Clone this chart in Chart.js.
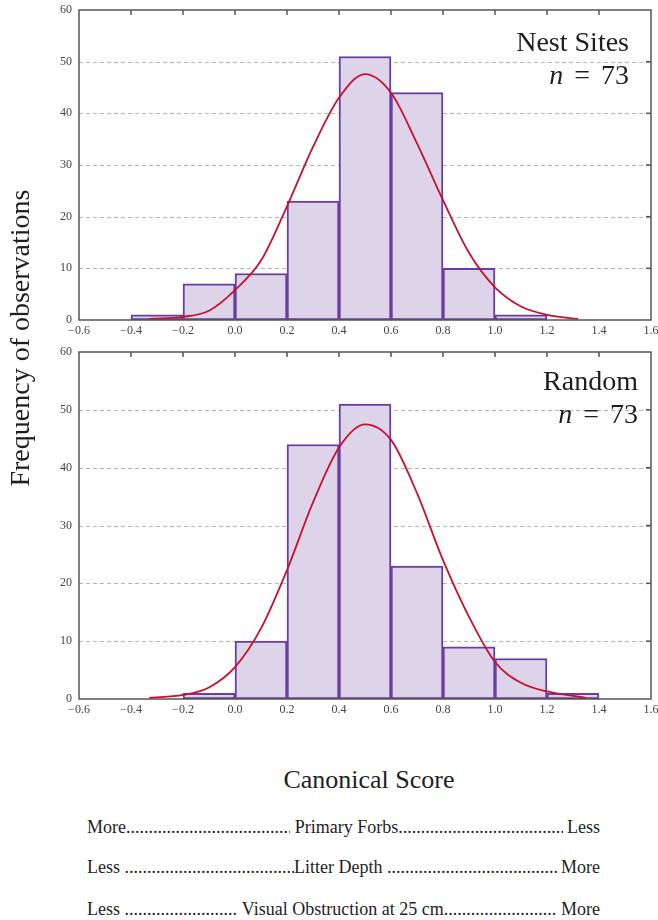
<!DOCTYPE html>
<html><head><meta charset="utf-8">
<script src="https://cdn.jsdelivr.net/npm/chart.js@4.4.1/dist/chart.umd.min.js"></script>
<style>
html,body{margin:0;padding:0;background:#fff}
body{width:658px;height:920px;position:relative;overflow:hidden;font-family:'Liberation Serif','Times New Roman',serif;color:#1e1e1e}
canvas{position:absolute;left:0}
#c1{top:0}
#c2{top:340px}
.tx{position:absolute;line-height:1;white-space:nowrap}
.ttl{font-size:28px;text-align:right}
.ttl i{font-style:italic}
#ytitle{position:absolute;font-size:28px;line-height:28px;width:400px;text-align:center;left:-180px;top:324px;transform:rotate(-90deg);transform-origin:50% 50%;white-space:nowrap}
#xtitle{position:absolute;font-size:26px;line-height:1;left:40px;width:658px;text-align:center;top:767px}
.row{position:absolute;left:87px;width:513px;font-size:18px;line-height:1;display:flex;white-space:nowrap}
.row .d{flex:1 1 0;overflow:hidden;white-space:nowrap;letter-spacing:0}
.row .dl{text-align:left}
</style></head><body>
<canvas id="c1" width="658" height="340"></canvas>
<canvas id="c2" width="658" height="380"></canvas>
<div id="ytitle">Frequency of observations</div>
<div class="tx ttl" style="right:29px;top:28px">Nest Sites</div>
<div class="tx ttl" style="right:29px;top:61px;word-spacing:4px"><i>n</i> = 73</div>
<div class="tx ttl" style="right:20px;top:367px">Random</div>
<div class="tx ttl" style="right:20px;top:400px;word-spacing:4px"><i>n</i> = 73</div>
<div id="xtitle">Canonical Score</div>
<div class="row" style="top:818px"><span>More</span><span class="d dl">....................................................................................................</span><span>&nbsp;Primary Forbs</span><span class="d dl">....................................................................................................</span><span>&nbsp;Less</span></div>
<div class="row" style="top:858px"><span>Less&nbsp;</span><span class="d dl">....................................................................................................</span><span>Litter Depth&nbsp;</span><span class="d dl">....................................................................................................</span><span>&nbsp;More</span></div>
<div class="row" style="top:900px"><span>Less&nbsp;</span><span class="d dl">....................................................................................................</span><span>&nbsp;Visual Obstruction at 25 cm</span><span class="d dl">....................................................................................................</span><span>&nbsp;More</span></div>
<script>
// ---- data ----
const binWidth = 0.2;
const nestBinLeft = [-0.4, -0.2, 0.0, 0.2, 0.4, 0.6, 0.8, 1.0];
const nestCounts  = [1, 7, 9, 23, 51, 44, 10, 1];
const randomBinLeft = [-0.2, 0.0, 0.2, 0.4, 0.6, 0.8, 1.0, 1.2];
const randomCounts  = [1, 10, 44, 51, 23, 9, 7, 1];

const nestCurveX = [-0.33, -0.2, -0.1, 0.0, 0.1, 0.2, 0.3, 0.4, 0.5, 0.6, 0.7, 0.8, 0.9, 1.0, 1.1, 1.2, 1.32];
const nestCurveY = [0.2, 0.6, 1.8, 5.8, 11.5, 22, 33.5, 43, 47.6, 44, 34.2, 23.2, 13, 6.3, 2.6, 1.0, 0.2];
const randomCurveX = [-0.33, -0.2, -0.1, 0.0, 0.1, 0.2, 0.3, 0.4, 0.5, 0.6, 0.7, 0.8, 0.9, 1.0, 1.1, 1.2, 1.35];
const randomCurveY = [0.2, 0.7, 2.0, 5.5, 12.2, 22.3, 34, 43.5, 47.5, 44.8, 35.6, 24, 14.2, 6.4, 2.8, 1.3, 0.2];

const xTicks = [-0.6, -0.4, -0.2, 0.0, 0.2, 0.4, 0.6, 0.8, 1.0, 1.2, 1.4, 1.6];
const yTicks = [0, 10, 20, 30, 40, 50, 60];

const FONT = "'Liberation Serif','Times New Roman',serif";

const framePlugin = {
  id: 'frame',
  beforeDatasetsDraw(chart) {
    const {ctx, chartArea: a, scales: {y}} = chart;
    ctx.save();
    ctx.strokeStyle = '#b4b4b4';
    ctx.lineWidth = 1;
    ctx.setLineDash([4, 3]);
    yTicks.slice(1, -1).forEach(v => {
      const py = Math.round(y.getPixelForValue(v)) + 0.5;
      ctx.beginPath(); ctx.moveTo(a.left, py); ctx.lineTo(a.right, py); ctx.stroke();
    });
    ctx.restore();
  },
  afterDraw(chart) {
    const {ctx, chartArea: a, scales: {x, y}} = chart;
    ctx.save();
    ctx.strokeStyle = '#555';
    ctx.lineWidth = 1.5;
    ctx.strokeRect(a.left, a.top, a.right - a.left, a.bottom - a.top);
    xTicks.slice(1, -1).forEach(v => {
      const px = x.getPixelForValue(v);
      ctx.beginPath(); ctx.moveTo(px, a.top); ctx.lineTo(px, a.top + 5); ctx.stroke();
    });
    yTicks.slice(1, -1).forEach(v => {
      const py = y.getPixelForValue(v);
      ctx.beginPath(); ctx.moveTo(a.right, py); ctx.lineTo(a.right - 5, py); ctx.stroke();
    });
    ctx.restore();
  }
};

function fmt(v) {
  if (Math.abs(v) < 1e-9) return '0.0';
  return (v < 0 ? '\u2212' : '') + Math.abs(v).toFixed(1);
}

function makeChart(id, binLeft, counts, cx, cy, padTop, padRight, xH) {
  return new Chart(document.getElementById(id), {
    data: {
      datasets: [
        {
          type: 'line',
          order: 0,
          data: cx.map((v, i) => ({x: v, y: cy[i]})),
          borderColor: '#c8102e',
          borderWidth: 1.8,
          pointRadius: 0,
          tension: 0.4,
          cubicInterpolationMode: 'monotone',
          fill: false
        },
        {
          type: 'bar',
          order: 1,
          data: binLeft.map((v, i) => ({x: v + binWidth / 2, y: counts[i]})),
          backgroundColor: '#ddd4e9',
          borderColor: '#6a3d9e',
          borderWidth: 2,
          borderSkipped: false,
          barPercentage: 1,
          categoryPercentage: 1,
          grouped: false
        }
      ]
    },
    options: {
      responsive: false,
      animation: false,
      devicePixelRatio: 1,
      layout: {padding: {left: 0, right: padRight, top: padTop, bottom: 0}},
      plugins: {legend: {display: false}, tooltip: {enabled: false}},
      scales: {
        x: {
          type: 'linear',
          min: -0.6, max: 1.6,
          offset: false,
          grid: {display: false, drawTicks: false},
          border: {display: false},
          afterBuildTicks: s => { s.ticks = xTicks.map(v => ({value: v})); },
          afterFit: s => { s.height = xH; s.paddingRight = 0; s.paddingLeft = 0; },
          ticks: {
            autoSkip: false, maxRotation: 0, padding: 4,
            color: '#444', font: {family: FONT, size: 12},
            callback: v => fmt(v)
          }
        },
        y: {
          min: 0, max: 60,
          grid: {display: false, drawTicks: false},
          border: {display: false},
          afterBuildTicks: s => { s.ticks = yTicks.map(v => ({value: v})); },
          afterFit: s => { s.width = 79; s.paddingTop = 0; s.paddingBottom = 0; },
          ticks: {
            padding: 7, color: '#444', font: {family: FONT, size: 12},
            callback: v => String(v)
          }
        }
      }
    },
    plugins: [framePlugin]
  });
}

makeChart('c1', nestBinLeft, nestCounts, nestCurveX, nestCurveY, 10, 7, 20);
makeChart('c2', randomBinLeft, randomCounts, randomCurveX, randomCurveY, 12, 7, 21);
</script>
</body></html>
